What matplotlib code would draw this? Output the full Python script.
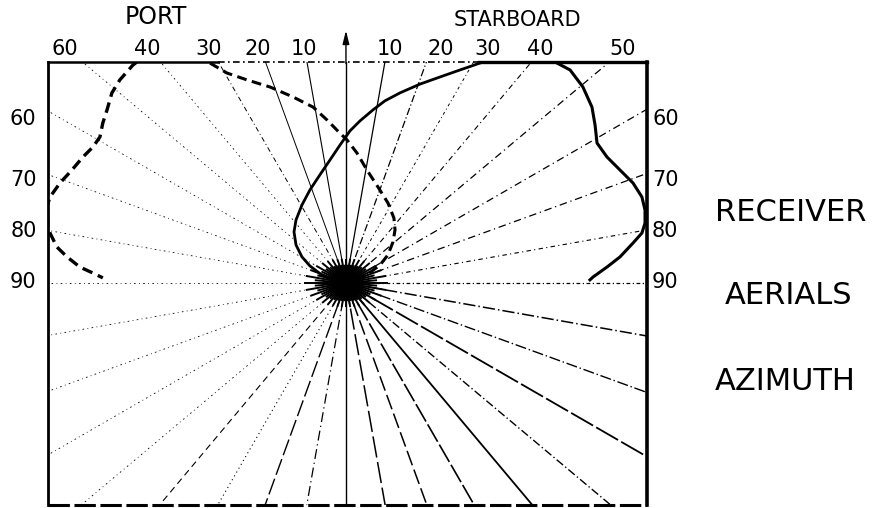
import numpy as np
import matplotlib.pyplot as plt
from matplotlib.patches import Ellipse

# Radial guide lines, degrees clockwise from the bow
ray_angles = list(range(0, 360, 10))
spike_angles = list(range(0, 360, 5))

# Scales: azimuth across the top, elevation down the sides
top_tick_pos = [-1.27, -0.90, -0.62, -0.40, -0.19, 0.20, 0.43, 0.64, 0.88, 1.25]
top_tick_labels = ['60', '40', '30', '20', '10', '10', '20', '30', '40', '50']
side_tick_pos = [0.74, 0.465, 0.235, 0.005]
side_tick_labels = ['60', '70', '80', '90']

# Starboard aerial (solid): wide lobe to starboard, narrow lobe to port
stbd_outer_x = [0.946, 1.014, 1.072, 1.113, 1.127, 1.136, 1.181, 1.240, 1.299,
                1.339, 1.353, 1.353, 1.339, 1.299, 1.240, 1.181, 1.118, 1.104]
stbd_outer_y = [1.000, 0.964, 0.887, 0.796, 0.715, 0.633, 0.570, 0.511, 0.452,
                0.389, 0.330, 0.271, 0.226, 0.181, 0.118, 0.072, 0.027, 0.014]
stbd_inner_x = [0.606, 0.516, 0.425, 0.335, 0.244, 0.176, 0.122, 0.063, 0.018,
                -0.027, -0.072, -0.118, -0.163, -0.199, -0.226, -0.235, -0.226,
                -0.199, -0.163, -0.109, -0.050, 0.0]
stbd_inner_y = [0.995, 0.964, 0.932, 0.900, 0.860, 0.824, 0.783, 0.733, 0.688,
                0.624, 0.557, 0.489, 0.421, 0.353, 0.285, 0.231, 0.172, 0.118,
                0.077, 0.036, 0.009, 0.0]

# Port aerial (dashed)
port_outer_x = [-0.946, -0.964, -1.023, -1.059, -1.081, -1.100, -1.113, -1.145,
                -1.190, -1.240, -1.294, -1.339, -1.353, -1.348, -1.339, -1.308,
                -1.262, -1.204, -1.145, -1.100]
port_outer_y = [1.000, 0.986, 0.919, 0.860, 0.783, 0.724, 0.661, 0.615, 0.570,
                0.511, 0.452, 0.389, 0.344, 0.253, 0.226, 0.163, 0.118, 0.072,
                0.045, 0.023]
port_inner_x = [-0.615, -0.538, -0.448, -0.344, -0.240, -0.149, -0.086, -0.041,
                0.005, 0.050, 0.095, 0.145, 0.190, 0.217, 0.222, 0.213, 0.190,
                0.154, 0.100, 0.045, 0.0]
port_inner_y = [0.995, 0.950, 0.919, 0.887, 0.842, 0.796, 0.738, 0.692, 0.647,
                0.588, 0.511, 0.434, 0.362, 0.294, 0.240, 0.186, 0.127, 0.081,
                0.041, 0.014, 0.0]

XL, XR, YB, YT = -1.348, 1.362, -1.005, 1.0


def ray_style(a):
    table = {
        0: ('-', 1.0), 10: ('-', 0.9), 20: ((0, (6, 2, 1, 2)), 0.9),
        30: ((0, (3, 3, 1, 3)), 0.7), 40: ((0, (5, 3, 1, 3)), 0.8),
        50: ((0, (6, 3, 1, 3)), 0.9), 60: ((0, (6, 3, 1, 3)), 0.9),
        70: ((0, (6, 3, 1, 3)), 0.9), 80: ((0, (4, 3, 1, 3)), 0.8),
        90: ((0, (3, 2, 1, 2)), 0.9), 100: ((0, (8, 2, 1, 2)), 1.1),
        110: ((0, (8, 2, 1, 2)), 1.0), 120: ((0, (14, 2)), 1.3),
        130: ((0, (6, 2, 1, 2)), 1.0), 140: ('-', 1.3), 150: ((0, (12, 2)), 1.2),
        160: ((0, (10, 3)), 1.1), 170: ((0, (14, 3)), 1.1), 180: ('-', 1.0),
        190: ((0, (8, 3, 1, 3)), 0.9), 200: ((0, (12, 3)), 1.0),
        210: ((0, (1, 3)), 0.8), 220: ((0, (6, 4)), 0.8),
        330: ((0, (5, 3, 1, 3)), 0.7), 340: ('-', 0.7), 350: ('-', 0.8),
    }
    return table.get(a, ((0, (2, 4, 1, 4)), 0.6))


fig = plt.figure(figsize=(8.95, 5.08), dpi=100)
ax = fig.add_axes([48 / 895, 3 / 508, 599 / 895, 443 / 508])
ax.set_xlim(XL, XR)
ax.set_ylim(YB, YT)
ax.set_xticks([])
ax.set_yticks([])

# radial lines from the aerial position
for a in ray_angles:
    ls, lw = ray_style(a)
    t = np.radians(a)
    ax.plot([0, 3 * np.sin(t)], [0, 3 * np.cos(t)], color='black',
            linestyle=ls, lw=lw)

# dense burst where the lines meet: spikes reach further sideways
for a in spike_angles:
    t = np.radians(a)
    s, c = np.sin(t), np.cos(t)
    r = 1 / np.sqrt((s / 0.19) ** 2 + (c / 0.11) ** 2)
    if a % 10:
        r *= 0.75
    ax.plot([0, r * s], [0, r * c], color='black', lw=1.4,
            solid_capstyle='butt')
ax.add_patch(Ellipse((0, -0.005), 0.11, 0.05, color='black', zorder=3))

# fore-and-aft arrow
ax.annotate('', xy=(0, 1.155), xytext=(0, 0.98),
            arrowprops=dict(arrowstyle='-|>,head_length=0.8,head_width=0.2',
                            color='black', lw=1.0),
            annotation_clip=False)

# aerial patterns
ax.plot(stbd_outer_x, stbd_outer_y, color='black', lw=2.2)
ax.plot(stbd_inner_x, stbd_inner_y, color='black', lw=2.0)
ax.plot(port_outer_x, port_outer_y, color='black', lw=2.4,
        linestyle=(0, (3.2, 1.8)))
ax.plot(port_inner_x, port_inner_y, color='black', lw=2.2,
        linestyle=(0, (3.2, 1.8)))

# frame
for side in ['top', 'bottom']:
    ax.spines[side].set_visible(False)
ax.spines['left'].set_linewidth(2.0)
ax.spines['right'].set_linewidth(2.6)
ax.plot([XL, -0.58], [YT, YT], color='black', lw=1.8, clip_on=False)
ax.plot([-0.58, 0.6], [YT, YT], color='black', lw=1.2,
        linestyle=(0, (4, 2, 1, 2)), clip_on=False)
ax.plot([0.6, XR], [YT, YT], color='black', lw=2.4, clip_on=False)
ax.plot([XL, XR], [YB, YB], color='black', lw=2.2,
        linestyle=(0, (7, 1.5)), clip_on=False)

# scale labels
for x, lab in zip(top_tick_pos, top_tick_labels):
    ax.text(x, 1.06, lab, ha='center', va='center', fontsize=15, clip_on=False)
for y, lab in zip(side_tick_pos, side_tick_labels):
    ax.text(-1.40, y, lab, ha='right', va='center', fontsize=15, clip_on=False)
    ax.text(1.385, y, lab, ha='left', va='center', fontsize=15, clip_on=False)

ax.text(-0.86, 1.204, 'PORT', ha='center', va='center', fontsize=17,
        clip_on=False)
ax.text(0.774, 1.192, 'STARBOARD', ha='center', va='center', fontsize=15,
        clip_on=False)

fig.text(715 / 895, 1 - 213 / 508, 'RECEIVER', ha='left', va='center',
         fontsize=22)
fig.text(725 / 895, 1 - 296 / 508, 'AERIALS', ha='left', va='center',
         fontsize=22)
fig.text(715 / 895, 1 - 382 / 508, 'AZIMUTH', ha='left', va='center',
         fontsize=22)

fig.savefig('out.png', dpi=100)
